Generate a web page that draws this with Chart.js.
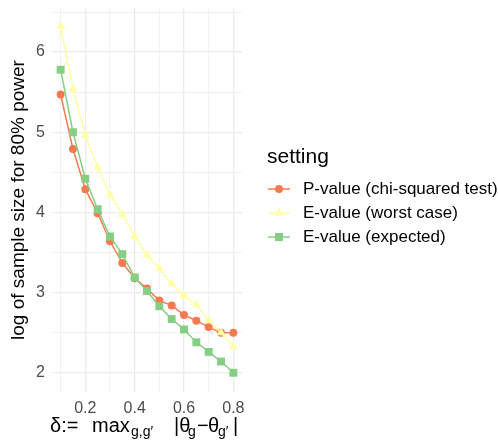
<!DOCTYPE html>
<html>
<head>
<meta charset="utf-8">
<script src="https://cdn.jsdelivr.net/npm/chart.js@4.4.0/dist/chart.umd.min.js"></script>
<style>
  html, body { margin: 0; padding: 0; background: #fff; }
  #wrap { width: 498px; height: 441px; position: relative; }
</style>
</head>
<body>
<div id="wrap"><canvas id="chart"></canvas></div>
<script>
// effect size delta
const deltas = [0.1, 0.15, 0.2, 0.25, 0.3, 0.35, 0.4, 0.45, 0.5, 0.55, 0.6, 0.65, 0.7, 0.75, 0.8];
// log of sample size for 80% power
const pValueChi = [5.47, 4.79, 4.29, 3.99, 3.64, 3.37, 3.18, 3.05, 2.90, 2.84, 2.72, 2.65, 2.57, 2.50, 2.50];
const eValueWorst = [6.32, 5.54, 4.96, 4.56, 4.22, 3.98, 3.70, 3.47, 3.30, 3.11, 2.96, 2.85, 2.65, 2.50, 2.33];
const eValueExpected = [5.78, 5.00, 4.42, 4.04, 3.70, 3.48, 3.19, 3.02, 2.83, 2.67, 2.54, 2.38, 2.26, 2.14, 2.00];

const seriesNames = ['P-value (chi-squared test)', 'E-value (worst case)', 'E-value (expected)'];
const xGrid = [0.1, 0.2, 0.3, 0.4, 0.5, 0.6, 0.7, 0.8];
const xLabels = [0.2, 0.4, 0.6, 0.8];
const yGrid = [2, 2.5, 3, 3.5, 4, 4.5, 5, 5.5, 6, 6.5];
const yLabels = [2, 3, 4, 5, 6];

const FONT = '"Liberation Sans", Arial, sans-serif';
const colors = ['#F7794F', '#FFFFA6', '#86CE84'];
const shapes = ['circle', 'triangle', 'rect'];
const radii = [4, 5.2, 5.6];

function pts(ys) {
  return deltas.map((x, i) => ({ x: x, y: ys[i] }));
}

const allSeries = [pValueChi, eValueWorst, eValueExpected];
const datasets = allSeries.map((ys, i) => ({
  label: seriesNames[i],
  data: pts(ys),
  borderColor: colors[i],
  backgroundColor: colors[i],
  borderWidth: 1.5,
  pointStyle: shapes[i],
  pointRadius: radii[i],
  pointBorderWidth: 0,
  pointHoverRadius: radii[i],
  tension: 0,
  order: 2 - i
}));

const isIn = (arr, v) => arr.some(a => Math.abs(a - v) < 1e-6);

// legend + x-axis title with subscripts
const extras = {
  id: 'extras',
  afterDraw(chart) {
    const ctx = chart.ctx;
    ctx.save();
    // legend
    ctx.fillStyle = '#000';
    ctx.textBaseline = 'middle';
    ctx.textAlign = 'left';
    ctx.font = '21px ' + FONT;
    ctx.fillText('setting', 267, 157);
    const ys = [189, 213, 237];
    ctx.font = '17px ' + FONT;
    seriesNames.forEach((name, i) => {
      const y = ys[i];
      ctx.strokeStyle = colors[i];
      ctx.lineWidth = 1.5;
      ctx.beginPath();
      ctx.moveTo(268, y);
      ctx.lineTo(290, y);
      ctx.stroke();
      ctx.fillStyle = colors[i];
      ctx.beginPath();
      const cx = 279;
      if (shapes[i] === 'circle') {
        ctx.arc(cx, y, 4, 0, Math.PI * 2);
      } else if (shapes[i] === 'triangle') {
        const r = 5.2;
        ctx.moveTo(cx, y - r);
        ctx.lineTo(cx + r * 0.866, y + r / 2);
        ctx.lineTo(cx - r * 0.866, y + r / 2);
        ctx.closePath();
      } else {
        ctx.rect(cx - 4, y - 4, 8, 8);
      }
      ctx.fill();
      ctx.fillStyle = '#000';
      ctx.fillText(name, 303, y);
    });

    // x axis title: δ:= max_{g,g'} |θ_g − θ_g'|
    const base = 432;
    const runs = [
      ['δ:=', 50, 0], ['max', 92, 0], ['g,g′', 131, 1],
      ['|θ', 174, 0], ['g', 188, 1], ['−', 197, 0],
      ['θ', 208, 0], ['g′', 218, 1], ['|', 233, 0]
    ];
    ctx.textBaseline = 'alphabetic';
    ctx.fillStyle = '#000';
    runs.forEach(([t, x, sub]) => {
      ctx.font = (sub ? '14px ' : '20px ') + FONT;
      ctx.fillText(t, x, base + (sub ? 4 : 0));
    });
    ctx.restore();
  }
};

new Chart(document.getElementById('chart'), {
  type: 'line',
  data: { datasets: datasets },
  plugins: [extras],
  options: {
    responsive: true,
    maintainAspectRatio: false,
    animation: false,
    layout: { padding: { top: 8, right: 256, left: 0, bottom: 0 } },
    plugins: { legend: { display: false }, tooltip: { enabled: false } },
    scales: {
      x: {
        type: 'linear',
        min: 0.065,
        max: 0.835,
        afterBuildTicks: s => { s.ticks = xGrid.map(v => ({ value: v })); },
        afterFit: s => { s.height = 49; s.paddingLeft = 0; s.paddingRight = 0; },
        border: { display: false },
        grid: {
          color: '#EBEBEB',
          drawTicks: false,
          lineWidth: c => (c.tick && isIn(xLabels, c.tick.value)) ? 1.3 : 0.7
        },
        ticks: {
          autoSkip: false,
          maxRotation: 0,
          padding: 7,
          color: '#4D4D4D',
          font: { family: FONT, size: 16 },
          callback: v => isIn(xLabels, v) ? v.toFixed(1) : ''
        }
      },
      y: {
        type: 'linear',
        min: 1.76,
        max: 6.55,
        afterBuildTicks: s => { s.ticks = yGrid.map(v => ({ value: v })); },
        afterFit: s => { s.width = 52; s.paddingTop = 0; s.paddingBottom = 0; },
        border: { display: false },
        grid: {
          color: '#EBEBEB',
          drawTicks: false,
          lineWidth: c => (c.tick && isIn(yLabels, c.tick.value)) ? 1.3 : 0.7
        },
        ticks: {
          autoSkip: false,
          padding: 7,
          color: '#4D4D4D',
          font: { family: FONT, size: 16 },
          callback: v => isIn(yLabels, v) ? String(v) : ''
        },
        title: {
          display: true,
          text: 'log of sample size for 80% power',
          color: '#000',
          font: { family: FONT, size: 19 },
          padding: { top: 7, bottom: 0 }
        }
      }
    }
  }
});
</script>
</body>
</html>
